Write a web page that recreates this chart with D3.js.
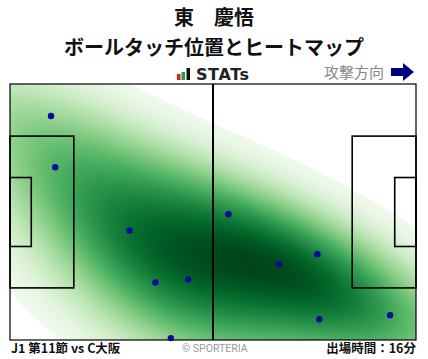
<!DOCTYPE html>
<html><head><meta charset="utf-8">
<script src="https://cdn.jsdelivr.net/npm/d3@7"></script>
<style>
html,body{margin:0;padding:0;background:#fff;}
svg{display:block;font-family:"Noto Sans CJK JP","Noto Sans",sans-serif;}
</style></head><body>
<svg id="chart" width="428" height="359"></svg>
<script>
// Pitch dimensions (metres)
const pitchLength = 105;
const pitchWidth = 68;
// Ball touch positions (metres, x = attacking direction, y = from top touchline)
const touchX = [10.6, 11.7, 30.9, 37.6, 46.1, 41.6, 56.5, 69.6, 79.5, 80.0, 98.3];
const touchY = [8.5, 22.1, 38.9, 52.7, 51.9, 67.5, 34.6, 47.9, 45.2, 62.5, 61.4];
const titleName = "東　慶悟";
const titleSub = "ボールタッチ位置とヒートマップ";
const matchLabel = "J1 第11節 vs C大阪";
const playTime = "出場時間：16分";
const directionLabel = "攻撃方向";

const svg = d3.select("#chart");
const x = d3.scaleLinear().domain([0, pitchLength]).range([10, 416]);
const y = d3.scaleLinear().domain([0, pitchWidth]).range([84, 340]);

// --- KDE (scipy style, Scott's rule, widened) ---
const n = touchX.length;
const mx = d3.mean(touchX), my = d3.mean(touchY);
let sxx = 0, syy = 0, sxy = 0;
for (let i = 0; i < n; i++) {
  sxx += (touchX[i]-mx)**2; syy += (touchY[i]-my)**2; sxy += (touchX[i]-mx)*(touchY[i]-my);
}
sxx /= (n-1); syy /= (n-1); sxy /= (n-1);
const bwAdjust = 1.3;
const f2 = Math.pow(n, -2/6) * bwAdjust * bwAdjust;
const a = sxx*f2, b = sxy*f2, c = syy*f2;
const det = a*c - b*b;
const ia = c/det, ib = -b/det, ic = a/det;
function dens(px, py) {
  let s = 0;
  for (let i = 0; i < n; i++) {
    const dx = px - touchX[i], dy = py - touchY[i];
    s += Math.exp(-0.5*(ia*dx*dx + 2*ib*dx*dy + ic*dy*dy));
  }
  return s;
}
const x0 = x.range()[0], x1 = x.range()[1], y0 = y.range()[0], y1 = y.range()[1];
const W = Math.round(x1 - x0), H = Math.round(y1 - y0);
const vals = new Float32Array(W*H);
let vmax = 0;
for (let j = 0; j < H; j++) for (let i = 0; i < W; i++) {
  const v = dens(x.invert(x0 + i + 0.5), y.invert(y0 + j + 0.5));
  vals[j*W+i] = v; if (v > vmax) vmax = v;
}
const thr = 0.08;
const canvas = document.createElement("canvas");
canvas.width = W; canvas.height = H;
const ctx = canvas.getContext("2d");
const img = ctx.createImageData(W, H);
for (let k = 0; k < W*H; k++) {
  const t = vals[k]/vmax;
  let r = 255, g = 255, bl = 255;
  if (t >= thr) {
    const col = d3.rgb(d3.interpolateGreens(0.04 + 0.96*(t-thr)/(1-thr)));
    r = col.r; g = col.g; bl = col.b;
  }
  img.data[k*4] = r; img.data[k*4+1] = g; img.data[k*4+2] = bl; img.data[k*4+3] = 255;
}
ctx.putImageData(img, 0, 0);
svg.append("image").attr("x", x0).attr("y", y0).attr("width", W).attr("height", H)
  .attr("href", canvas.toDataURL());

// --- Pitch lines ---
const g = svg.append("g").attr("fill", "none").attr("stroke", "#000").attr("stroke-width", 1.6);
g.append("rect").attr("x", x(0)).attr("y", y(0)).attr("width", x(pitchLength)-x(0)).attr("height", y(pitchWidth)-y(0)).attr("stroke-width", 1.2);
g.append("line").attr("x1", x(pitchLength/2)).attr("x2", x(pitchLength/2)).attr("y1", y(0)).attr("y2", y(pitchWidth)).attr("stroke-width", 2);
const boxes = [[16.5, 40.32], [5.5, 18.32]];
boxes.forEach(([d, w]) => {
  g.append("rect").attr("x", x(0)).attr("y", y(pitchWidth/2 - w/2)).attr("width", x(d)-x(0)).attr("height", y(pitchWidth/2 + w/2)-y(pitchWidth/2 - w/2));
  g.append("rect").attr("x", x(pitchLength-d)).attr("y", y(pitchWidth/2 - w/2)).attr("width", x(pitchLength)-x(pitchLength-d)).attr("height", y(pitchWidth/2 + w/2)-y(pitchWidth/2 - w/2));
});

// --- Touch points ---
svg.append("g").selectAll("circle").data(d3.range(n)).join("circle")
  .attr("cx", i => x(touchX[i])).attr("cy", i => y(touchY[i])).attr("r", 3.2)
  .attr("fill", "#0a0a9a");

// --- Titles ---
svg.append("text").attr("x", 214).attr("y", 25).attr("text-anchor", "middle")
  .attr("font-size", 20).attr("font-weight", "bold").attr("fill", "#111").text(titleName);
svg.append("text").attr("x", 214).attr("y", 54.5).attr("text-anchor", "middle")
  .attr("font-size", 20).attr("font-weight", "bold").attr("fill", "#111").text(titleSub);

// STATs logo
const logo = svg.append("g");
logo.append("rect").attr("x", 177).attr("y", 74).attr("width", 3.5).attr("height", 6).attr("fill", "#e02020");
logo.append("rect").attr("x", 181.5).attr("y", 72).attr("width", 3.5).attr("height", 8).attr("fill", "#20a040");
logo.append("rect").attr("x", 186.5).attr("y", 68).attr("width", 3.5).attr("height", 12).attr("fill", "#111");
logo.append("text").attr("x", 196).attr("y", 80).attr("font-family", "'DejaVu Sans',sans-serif")
  .attr("font-size", 16).attr("font-weight", "bold").attr("fill", "#222").attr("letter-spacing", 0.6).text("STATs");

// Attack direction
svg.append("text").attr("x", 384).attr("y", 78).attr("text-anchor", "end")
  .attr("font-size", 15).attr("fill", "#888").text(directionLabel);
svg.append("path").attr("d", "M391,68 L403,68 L403,63 L414,72 L403,81 L403,76 L391,76 Z").attr("fill", "#000080");

// Footer
svg.append("text").attr("x", 11).attr("y", 353).attr("font-size", 12.5).attr("font-weight", "bold").attr("fill", "#111").text(matchLabel);
svg.append("text").attr("x", 182).attr("y", 352).attr("font-size", 10.5).attr("fill", "#999").attr("font-family", "Roboto,'Noto Sans',sans-serif").text("© SPORTERIA");
svg.append("text").attr("x", 416).attr("y", 353).attr("text-anchor", "end").attr("font-size", 12.5).attr("font-weight", "bold").attr("fill", "#111").text(playTime);
</script>
</body></html>
